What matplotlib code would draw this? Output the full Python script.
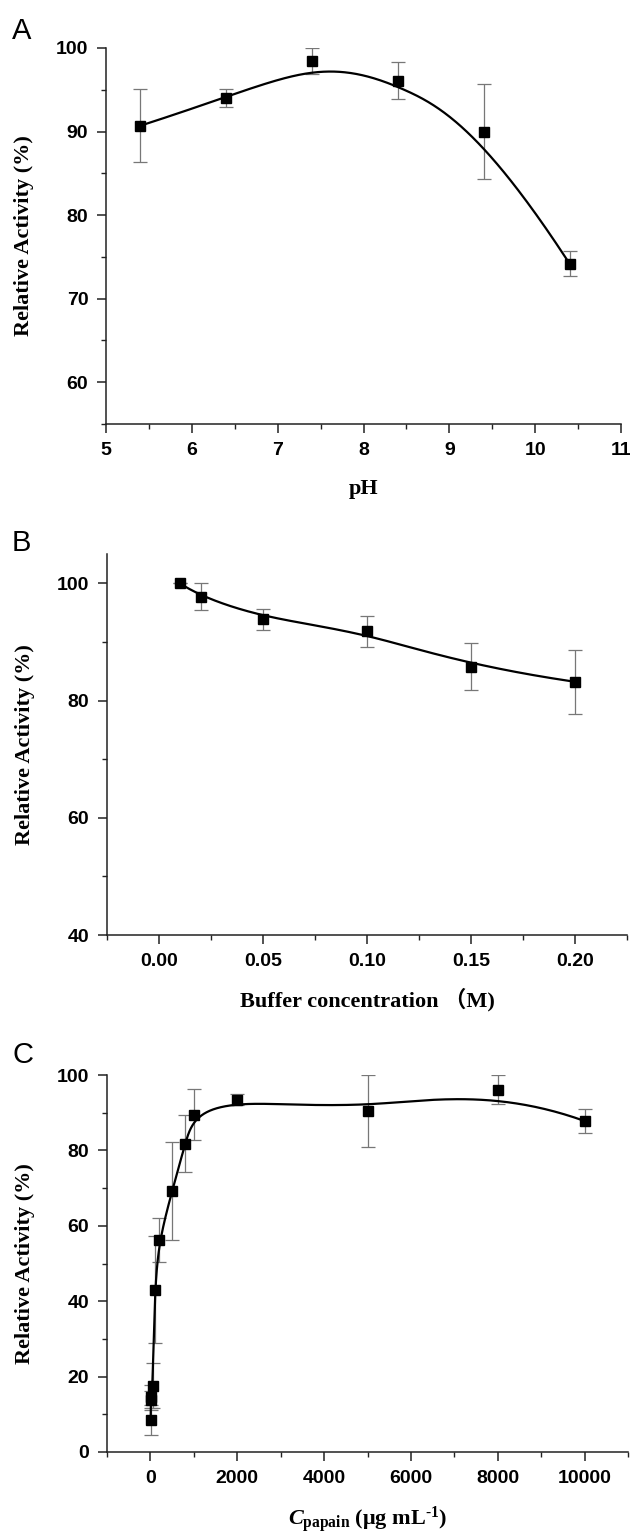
import numpy as np
import matplotlib
matplotlib.use("Agg")
import matplotlib.pyplot as plt
from matplotlib.ticker import MultipleLocator, FormatStrFormatter

plt.rcParams["mathtext.fontset"] = "custom"
plt.rcParams["mathtext.rm"] = "Liberation Serif:bold"
plt.rcParams["mathtext.it"] = "Liberation Serif:italic:bold"
plt.rcParams["mathtext.bf"] = "Liberation Serif:bold"

# A: pH
ph = [5.4, 6.4, 7.4, 8.4, 9.4, 10.4]
ph_act = [90.7, 94.0, 98.4, 96.1, 90.0, 74.2]
ph_err = [4.4, 1.05, 1.55, 2.2, 5.7, 1.5]

# B: buffer concentration (M)
buf = [0.01, 0.02, 0.05, 0.10, 0.15, 0.20]
buf_act = [100.0, 97.7, 93.9, 91.8, 85.8, 83.2]
buf_err = [0.0, 2.3, 1.8, 2.6, 4.0, 5.5]

# C: papain concentration (ug/mL)
pap = [5, 10, 20, 50, 100, 200, 500, 800, 1000, 2000, 5000, 8000, 10000]
pap_act = [8.4, 14.7, 13.7, 17.6, 43.1, 56.2, 69.2, 81.8, 89.5, 93.5, 90.5, 96.1, 87.8]
pap_err = [4.0, 3.0, 2.5, 5.9, 14.2, 5.8, 12.9, 7.6, 6.8, 1.5, 9.5, 3.9, 3.2]

TICK_FONT = dict(family="Liberation Sans", weight="bold", size=14)
LABEL_FONT = dict(family=["Liberation Serif", "Noto Sans CJK SC"], weight="bold", size=16)


def bspline(xs, ys, k=3, n=500):
    """clamped uniform B-spline with the data points as control points (Origin style)"""
    P = np.column_stack([xs, ys]).astype(float)
    m = len(P)
    k = min(k, m - 1)
    t = np.concatenate([np.zeros(k + 1), np.arange(1, m - k), np.full(k + 1, m - k)]).astype(float)
    u = np.linspace(0, m - k, n)
    u[-1] -= 1e-9
    N = np.zeros((n, len(t) - 1))
    for i in range(len(t) - 1):
        N[:, i] = (t[i] <= u) & (u < t[i + 1])
    for d in range(1, k + 1):
        Nn = np.zeros((n, len(t) - 1 - d))
        for i in range(len(t) - 1 - d):
            a = (u - t[i]) / (t[i + d] - t[i]) * N[:, i] if t[i + d] > t[i] else 0.0
            b = (t[i + d + 1] - u) / (t[i + d + 1] - t[i + 1]) * N[:, i + 1] if t[i + d + 1] > t[i + 1] else 0.0
            Nn[:, i] = a + b
        N = Nn
    C = N @ P
    return C[:, 0], C[:, 1]


def style(ax):
    for s in ("top", "right"):
        ax.spines[s].set_visible(False)
    for s in ("left", "bottom"):
        ax.spines[s].set_linewidth(1.1)
        ax.spines[s].set_color("#222222")
    ax.tick_params(which="major", direction="out", length=6.2, width=1.1, color="#222222")
    ax.tick_params(which="minor", direction="out", length=3.5, width=1.0, color="#222222")
    ax.tick_params(axis="x", which="major", pad=6.5)
    ax.tick_params(axis="y", which="major", pad=6.5)
    for lab in ax.get_xticklabels() + ax.get_yticklabels():
        lab.set_fontproperties(matplotlib.font_manager.FontProperties(**TICK_FONT))


def draw(ax, x, y, e):
    cx, cy = bspline(x, y)
    ax.plot(cx, cy, color="black", lw=1.6, zorder=3)
    ax.errorbar(x, y, yerr=e, fmt="none", ecolor="#777777", elinewidth=0.9,
                capsize=5, capthick=0.9, zorder=2)
    ax.plot(x, y, "s", color="black", ms=6.5, zorder=4)


H = 1538.0
W = 630.0
fig = plt.figure(figsize=(6.3, 15.38), dpi=100, facecolor="white")


def add_axes(left, right, top, bottom):
    return fig.add_axes([left / W, 1 - bottom / H, (right - left) / W, (bottom - top) / H])


def panel_letter(y, s):
    fig.text(12 / W, 1 - y / H, s, family="Liberation Sans", size=21, va="top", ha="left")


# ---- A ----
ax = add_axes(106, 621, 48, 424)
draw(ax, ph, ph_act, ph_err)
ax.set_xlim(5, 11)
ax.set_ylim(55, 100)
ax.xaxis.set_major_locator(MultipleLocator(1))
ax.xaxis.set_minor_locator(MultipleLocator(0.5))
ax.set_yticks([60, 70, 80, 90, 100])
ax.yaxis.set_minor_locator(MultipleLocator(5))
style(ax)
ax.set_xlabel("pH", **LABEL_FONT)
ax.set_ylabel("Relative Activity (%)", **LABEL_FONT)
ax.xaxis.set_label_coords(0.5, -0.145)
ax.yaxis.set_label_coords(-0.14, 0.5)
panel_letter(17, "A")

# ---- B ----
ax = add_axes(107, 627, 554, 935)
draw(ax, buf, buf_act, buf_err)
ax.set_xlim(-0.025, 0.225)
ax.set_ylim(40, 105)
ax.set_xticks([0.0, 0.05, 0.10, 0.15, 0.20])
ax.xaxis.set_minor_locator(MultipleLocator(0.025))
ax.xaxis.set_major_formatter(FormatStrFormatter("%.2f"))
ax.set_yticks([40, 60, 80, 100])
ax.yaxis.set_minor_locator(MultipleLocator(10))
style(ax)
ax.set_xlabel("Buffer concentration （M)", **LABEL_FONT)
ax.set_ylabel("Relative Activity (%)", **LABEL_FONT)
ax.xaxis.set_label_coords(0.5, -0.14)
ax.yaxis.set_label_coords(-0.138, 0.5)
panel_letter(529, "B")

# ---- C ----
ax = add_axes(107, 628, 1075, 1452)
draw(ax, pap, pap_act, pap_err)
ax.set_xlim(-1000, 11000)
ax.set_ylim(0, 100)
ax.set_xticks([0, 2000, 4000, 6000, 8000, 10000])
ax.xaxis.set_minor_locator(MultipleLocator(1000))
ax.set_yticks([0, 20, 40, 60, 80, 100])
ax.yaxis.set_minor_locator(MultipleLocator(10))
style(ax)
ax.set_xlabel(r"$\mathit{C}_{\mathrm{papain}}$ (μg mL$^{\text{-1}}$)", **LABEL_FONT)
ax.set_ylabel("Relative Activity (%)", **LABEL_FONT)
ax.xaxis.set_label_coords(0.5, -0.14)
ax.yaxis.set_label_coords(-0.138, 0.5)
panel_letter(1041, "C")

fig.savefig("out.png", dpi=100, facecolor="white")
